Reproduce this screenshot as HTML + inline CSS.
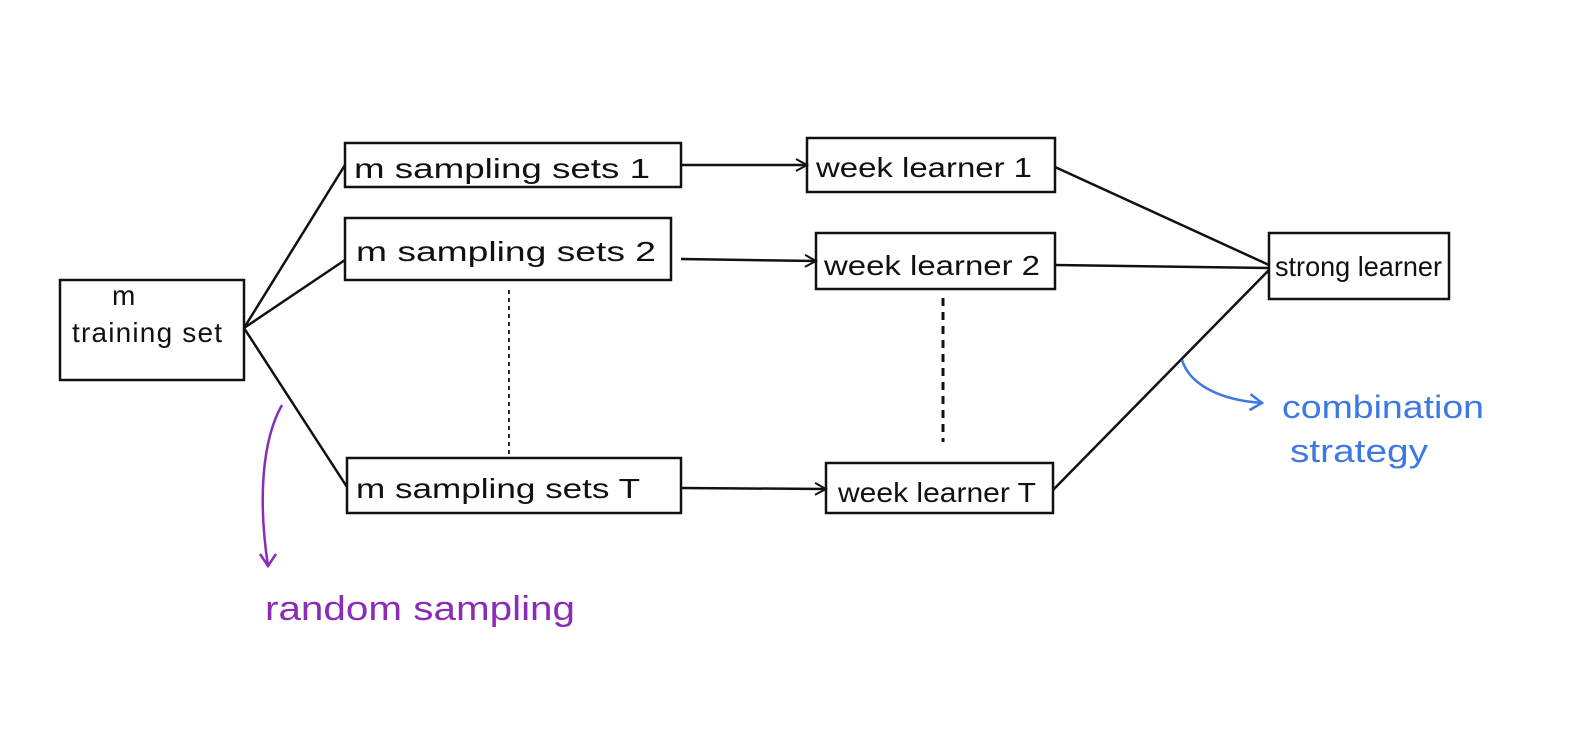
<!DOCTYPE html>
<html><head><meta charset="utf-8"><style>
html,body{margin:0;padding:0;background:#fff;}
svg{display:block;}
text{font-family:"Liberation Sans",sans-serif;fill:#111;}
</style></head><body>
<svg width="1582" height="753" viewBox="0 0 1582 753" xmlns="http://www.w3.org/2000/svg">
<defs>
<marker id="a" markerWidth="14" markerHeight="14" refX="12" refY="7" orient="auto" markerUnits="userSpaceOnUse">
<path d="M1,1 L12,7 L1,13" fill="none" stroke="#111" stroke-width="2"/></marker>
<marker id="p" markerWidth="18" markerHeight="18" refX="9" refY="16" orient="0" markerUnits="userSpaceOnUse">
<path d="M1,4 L9,16 L17,4" fill="none" stroke="#8a2cb5" stroke-width="2.5"/></marker>
<marker id="b" markerWidth="18" markerHeight="18" refX="14" refY="9" orient="auto" markerUnits="userSpaceOnUse">
<path d="M2,1 L14,9 L2,17" fill="none" stroke="#3d78e3" stroke-width="2.5"/></marker>
</defs>
<g fill="none" stroke="#111" stroke-width="2.5">
<rect x="60" y="280" width="184" height="100"/>
<rect x="345" y="143" width="336" height="44"/>
<rect x="345" y="218" width="326" height="62"/>
<rect x="347" y="458" width="334" height="55"/>
<rect x="807" y="138" width="248" height="54"/>
<rect x="816" y="233" width="239" height="56"/>
<rect x="826" y="463" width="227" height="50"/>
<rect x="1269" y="233" width="180" height="66"/>
<path d="M244,328 L345,165 M244,328 L345,260 M244,328 L347,487"/>
<path d="M1055,167 L1269,265 M1055,265 L1269,268 M1053,490 L1269,270"/>
<path d="M681,165 L807,165" marker-end="url(#a)"/>
<path d="M681,259 L816,261" marker-end="url(#a)"/>
<path d="M681,488 L826,489" marker-end="url(#a)"/>
</g>
<path d="M509,290 L509,455" stroke="#111" stroke-width="1.8" stroke-dasharray="4,4"/>
<path d="M943,298 L943,442" stroke="#111" stroke-width="3" stroke-dasharray="8,6"/>
<path d="M282,405 C262,440 258,500 268,566" fill="none" stroke="#8a2cb5" stroke-width="2.5" marker-end="url(#p)"/>
<path d="M1182,360 C1190,385 1220,400 1262,403" fill="none" stroke="#3d78e3" stroke-width="2.5" marker-end="url(#b)"/>
<g font-size="28">
<text x="112" y="305">m</text>
<text x="72" y="342" textLength="150" lengthAdjust="spacing">training set</text>
<text x="354" y="178" textLength="296" lengthAdjust="spacingAndGlyphs">m  sampling sets  1</text>
<text x="356" y="261" textLength="300" lengthAdjust="spacingAndGlyphs">m  sampling sets  2</text>
<text x="356" y="498" textLength="284" lengthAdjust="spacingAndGlyphs">m  sampling sets T</text>
<text x="816" y="177" textLength="216" lengthAdjust="spacingAndGlyphs">week learner 1</text>
<text x="824" y="275" textLength="216" lengthAdjust="spacingAndGlyphs">week learner 2</text>
<text x="838" y="502" textLength="198" lengthAdjust="spacingAndGlyphs">week learner T</text>
<text x="1275" y="276" textLength="167" lengthAdjust="spacingAndGlyphs">strong learner</text>
</g>
<text x="265" y="620" font-size="34" textLength="310" lengthAdjust="spacingAndGlyphs" style="fill:#8a2cb5">random sampling</text>
<text x="1282" y="418" font-size="32" textLength="202" lengthAdjust="spacingAndGlyphs" style="fill:#3d78e3">combination</text>
<text x="1290" y="462" font-size="32" textLength="138" lengthAdjust="spacingAndGlyphs" style="fill:#3d78e3">strategy</text>
</svg>
</body></html>
